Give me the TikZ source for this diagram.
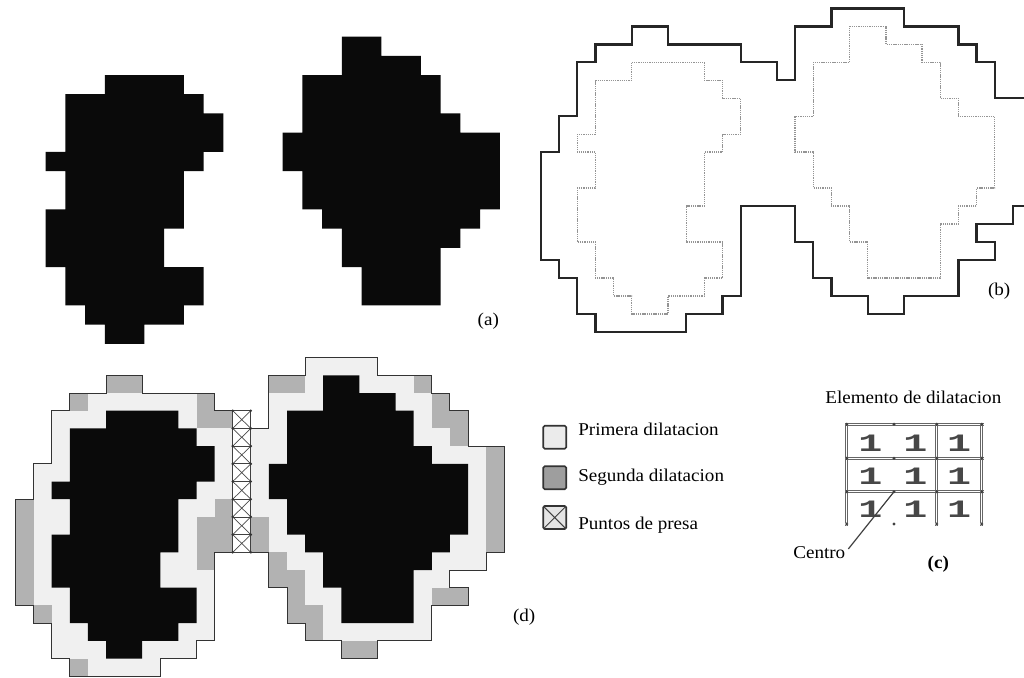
\documentclass[tikz,border=0pt]{standalone}
\usepackage{fontspec}
\usepackage{graphicx}
\setmainfont{Liberation Serif}[FakeStretch=1.06]
\newfontfamily\monofnt{Liberation Mono}
\newcommand\BlobL[1]{\path[#1] (3,0) -- (7,0) -- (7,1) -- (8,1) -- (8,2) -- (9,2) -- (9,4) -- (8,4) -- (8,5) -- (7,5) -- (7,8) -- (6,8) -- (6,10) -- (8,10) -- (8,12) -- (7,12) -- (7,13) -- (5,13) -- (5,14) -- (3,14) -- (3,13) -- (2,13) -- (2,12) -- (1,12) -- (1,10) -- (0,10) -- (0,7) -- (1,7) -- (1,5) -- (0,5) -- (0,4) -- (1,4) -- (1,1) -- (3,1) -- cycle;}
\newcommand\BlobR[1]{\path[#1,shift={(12,0)}] (3,-2) -- (5,-2) -- (5,-1) -- (7,-1) -- (7,0) -- (8,0) -- (8,2) -- (9,2) -- (9,3) -- (11,3) -- (11,7) -- (10,7) -- (10,8) -- (9,8) -- (9,9) -- (8,9) -- (8,12) -- (4,12) -- (4,10) -- (3,10) -- (3,8) -- (2,8) -- (2,7) -- (1,7) -- (1,5) -- (0,5) -- (0,3) -- (1,3) -- (1,0) -- (3,0) -- cycle;}
\newcommand\GroupL[1]{\path[#1] (1,-1) -- (3,-1) -- (3,-2) -- (5,-2) -- (5,-1) -- (9,-1) -- (9,0) -- (10,0) -- (10,8) -- (9,8) -- (9,13) -- (8,13) -- (8,14) -- (6,14) -- (6,15) -- (1,15) -- (1,14) -- (0,14) -- (0,12) -- (-1,12) -- (-1,11) -- (-2,11) -- (-2,5) -- (-1,5) -- (-1,3) -- (0,3) -- (0,0) -- (1,0) -- cycle;}
\newcommand\GroupR[1]{\path[#1] (11,1) -- (12,1) -- (12,-2) -- (14,-2) -- (14,-3) -- (18,-3) -- (18,-2) -- (21,-2) -- (21,-1) -- (22,-1) -- (22,0) -- (23,0) -- (23,2) -- (25,2) -- (25,8) -- (24,8) -- (24,9) -- (22,9) -- (22,10) -- (23,10) -- (23,11) -- (21,11) -- (21,13) -- (18,13) -- (18,14) -- (16,14) -- (16,13) -- (14,13) -- (14,12) -- (13,12) -- (13,10) -- (12,10) -- (12,8) -- (11,8) -- cycle;}
\begin{document}
\begin{tikzpicture}[x=1pt,y=-1pt,
  blackcell/.style={fill=black!96},
  firstdil/.style={fill=black!6},
  seconddil/.style={fill=black!30},
  dilline/.style={draw=black!80, line width=0.9pt},
  contour/.style={draw=black!85, line width=2.3pt},
  origline/.style={draw=black!42, line width=1.4pt, dash pattern=on 1.3pt off 0.9pt},
  damcell/.style={draw=black!75, line width=0.8pt, fill=white},
  lab/.style={font=\fontsize{18}{20}\selectfont, inner sep=0pt, outer sep=0pt},
  gline/.style={draw=black!60, double=white, double distance=1.2pt, line width=0.8pt},
  legbox/.style={draw=black!80, line width=1.6pt, rounded corners=1.5pt, minimum width=23pt, minimum height=23pt, inner sep=0pt, outer sep=0pt},
  onefig/.style={font=\monofnt\bfseries\fontsize{25}{25}\selectfont, text=black!72, inner sep=0pt},
]
\useasboundingbox (0,0) rectangle (1024,677);
\fill[white] (0,0) rectangle (1024,677);
\clip (0,0) rectangle (1024,677);

% ---------- (a) ----------
\begin{scope}[shift={(45.7,75)}, x=19.75pt, y=-19.2pt]
  \BlobL{blackcell}
  \BlobR{blackcell}
\end{scope}
\node[lab, anchor=base] (la) at (488.3,325) {(a)};

% ---------- (b) ----------
\begin{scope}[shift={(577.33,62.33)}, x=18.15pt, y=-17.97pt]
  \BlobL{origline}
  \BlobR{origline}
  \draw[contour] (25,2) -- (23,2) -- (23,0) -- (22,0) -- (22,-1) -- (21,-1) -- (21,-2) -- (18,-2) -- (18,-3) -- (14,-3) -- (14,-2) -- (12,-2) -- (12,1) -- (11,1) -- (11,0) -- (9,0) -- (9,-1) -- (5,-1) -- (5,-2) -- (3,-2) -- (3,-1) -- (1,-1) -- (1,0) -- (0,0) -- (0,3) -- (-1,3) -- (-1,5) -- (-2,5) -- (-2,11) -- (-1,11) -- (-1,12) -- (0,12) -- (0,14) -- (1,14) -- (1,15) -- (6,15) -- (6,14) -- (8,14) -- (8,13) -- (9,13) -- (9,8) -- (12,8) -- (12,10) -- (13,10) -- (13,12) -- (14,12) -- (14,13) -- (16,13) -- (16,14) -- (18,14) -- (18,13) -- (21,13) -- (21,11) -- (23,11) -- (23,10) -- (22,10) -- (22,9) -- (24,9) -- (24,8) -- (25,8);
\end{scope}
\node[lab, anchor=base] (lb) at (999.2,295) {(b)};

% ---------- (d) ----------
\begin{scope}[shift={(51.7,410.7)}, x=18.1pt, y=-17.7pt]
  \GroupL{firstdil}
  \GroupR{firstdil}
  \foreach \c/\r in {3/-2,4/-2,1/-1,8/-1,8/0,9/0,9/5,9/6,9/7,8/6,8/7,8/8,-2/5,-2/6,-2/7,-2/8,-2/9,-2/10,-1/11,1/14,
                     12/-2,13/-2,20/-2,21/-1,21/0,22/0,22/1,24/2,24/3,24/4,24/5,24/6,24/7,21/10,22/10,16/13,17/13,
                     11/6,11/7,12/8,12/9,13/9,13/10,13/11,14/11,14/12}
    \fill[seconddil] (\c,\r) rectangle ++(1,1);
  \BlobL{blackcell}
  \BlobR{blackcell}
  \GroupL{dilline}
  \GroupR{dilline}
  \foreach \r in {0,...,7} {
    \path[damcell] (10,\r) rectangle ++(1,1);
    \draw[black!70, line width=0.7pt] (10,\r) -- ++(1,1) ++(0,-1) -- ++(-1,1);
  }
  \foreach \r in {0,...,8} {
    \fill[black!80] (10,\r) circle (1.4pt) (11,\r) circle (1.4pt);
  }
\end{scope}
\node[lab, anchor=base] (ld) at (524.2,621.7) {(d)};

% ---------- legend ----------
\node[legbox, fill=black!8] (k1) at (554.7,437.2) {};
\node[legbox, fill=black!38] (k2) at (554.7,477.7) {};
\node[legbox, fill=black!10] (k3) at (554.7,517.5) {};
\draw[black!75, line width=1pt] (k3.north west) -- (k3.south east) (k3.north east) -- (k3.south west);
\node[lab, anchor=base west] (t1) at (578.3,435.7) {Primera dilatacion};
\node[lab, anchor=base west] (t2) at (578.3,481.7) {Segunda dilatacion};
\node[lab, anchor=base west] (t3) at (578.3,529.3) {Puntos de presa};

% ---------- (c) ----------
\node[lab, anchor=base] (title) at (913.3,403.3) {Elemento de dilatacion};
\foreach \xx in {846.7,894,936.7,981.7} \draw[gline] (\xx,422.5) -- (\xx,525.8);
\foreach \yy in {424.3,458.3,491.7,524} \draw[gline] (845,\yy) -- (983.5,\yy);
\foreach \xx in {846.7,894,936.7,981.7} \foreach \yy in {424.3,458.3,491.7,524} \fill[black!75] (\xx,\yy) circle (1.6pt);
\foreach \cx/\ci in {870.3/1,915.3/2,959.2/3} \foreach \cy/\ri in {443.3/1,476.5/2,509.5/3}
  \node[onefig] (one\ci\ri) at (\cx,\cy) {\scalebox{1.6}[1]{1}};
\coordinate (cc) at (894,491.7);
\node[lab, anchor=base west] (centro) at (793.3,558.7) {Centro};
\draw[black!75, line width=1.2pt, shorten <=5pt] (centro.east) -- (cc);
\node[lab, anchor=base, font=\bfseries\fontsize{18}{20}\selectfont] (lc) at (938.3,568.3) {(c)};
\end{tikzpicture}
\end{document}
